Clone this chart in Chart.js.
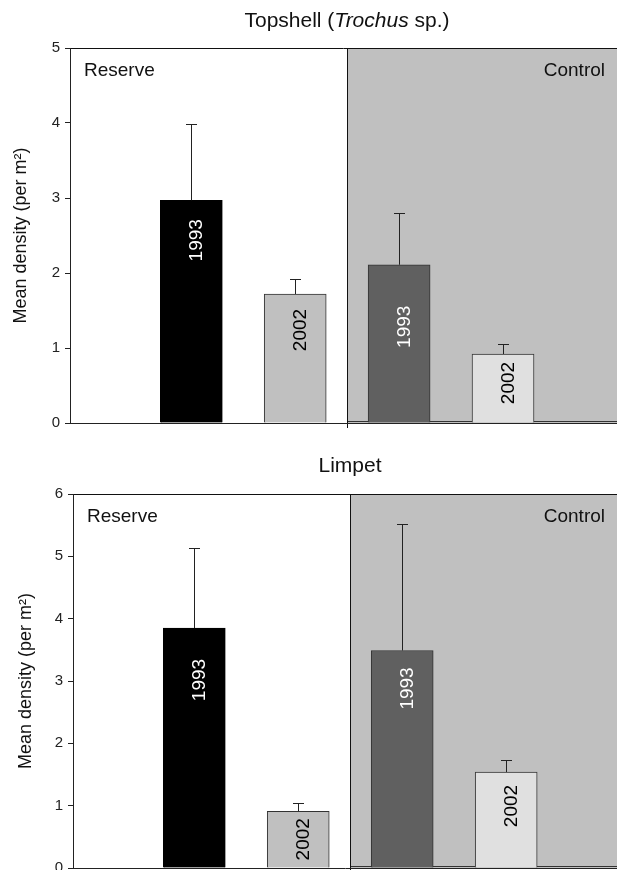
<!DOCTYPE html>
<html>
<head>
<meta charset="utf-8">
<script src="https://cdn.jsdelivr.net/npm/chart.js@4.4.1/dist/chart.umd.min.js"></script>
<style>
  html, body { margin: 0; padding: 0; width: 617px; height: 870px; overflow: hidden; background: #fff; }
  canvas { position: absolute; left: 0; }
  .title {
    position: absolute; width: 300px; text-align: center; white-space: nowrap;
    font-family: 'Liberation Sans', Arial, sans-serif; font-size: 21px; line-height: 20px; color: #111;
  }
</style>
</head>
<body>
<canvas id="topshell" style="top:0" width="617" height="440"></canvas>
<canvas id="limpet" style="top:440px" width="617" height="450"></canvas>
<div class="title" style="left:197px; top:10px">Topshell (<i>Trochus</i> sp.)</div>
<div class="title" style="left:200px; top:455px">Limpet</div>

<script>
// Mean density per m² with standard error, by site and survey year
const groups = ['Reserve', 'Reserve', 'Control', 'Control'];
const years = ['1993', '2002', '1993', '2002'];

const topshellMean = [2.97, 1.72, 2.11, 0.92];
const topshellSE = [1.02, 0.20, 0.69, 0.13];

const limpetMean = [3.85, 0.91, 3.49, 1.54];
const limpetSE = [1.29, 0.13, 2.03, 0.19];

const topshellTicks = [0, 1, 2, 3, 4, 5];
const limpetTicks = [0, 1, 2, 3, 4, 5, 6];

const FONT = "'Liberation Sans', Arial, sans-serif";
const barFill = ['#000000', '#c0c0c0', '#606060', '#e0e0e0'];
const barEdge = ['#000000', '#333333', '#333333', '#333333'];
const yearInk = ['#ffffff', '#000000', '#ffffff', '#000000'];

// Shaded control half, frame lines and site names
const sitePanels = {
  id: 'sitePanels',
  beforeDraw(chart) {
    const { ctx, chartArea: a, scales: { x } } = chart;
    const split = Math.round((x.getPixelForValue(2) + x.getPixelForValue(3)) / 2) + 0.5;
    const top = Math.round(a.top) + 0.5;
    const bottom = Math.round(a.bottom);
    ctx.save();
    ctx.fillStyle = '#c0c0c0';
    ctx.fillRect(split, a.top, a.right - split, a.bottom - a.top);
    ctx.lineWidth = 1;
    ctx.strokeStyle = '#333';
    ctx.beginPath();
    ctx.moveTo(split, bottom - 1.5);
    ctx.lineTo(a.right, bottom - 1.5);
    ctx.stroke();
    ctx.strokeStyle = '#111';
    ctx.beginPath();
    ctx.moveTo(a.left, top);
    ctx.lineTo(a.right, top);
    ctx.moveTo(split, top);
    ctx.lineTo(split, a.bottom + 5);
    ctx.stroke();

    const sites = [...new Set(groups)];
    ctx.font = `19px ${FONT}`;
    ctx.fillStyle = '#111';
    ctx.textBaseline = 'alphabetic';
    ctx.textAlign = 'left';
    ctx.fillText(sites[0], a.left + 14, a.top + 28);
    ctx.textAlign = 'right';
    ctx.fillText(sites[1], a.right - 12, a.top + 28);
    ctx.restore();
  }
};

// Upper error whiskers and the year written up each bar
const barNotes = {
  id: 'barNotes',
  afterDatasetsDraw(chart, args, opts) {
    const { ctx } = chart;
    const y = chart.scales.y;
    const meta = chart.getDatasetMeta(0);
    const data = chart.data.datasets[0].data;
    ctx.save();
    meta.data.forEach((bar, i) => {
      const xc = Math.round(bar.x) + 0.5;
      const yEnd = Math.round(y.getPixelForValue(data[i].y + opts.se[i])) + 0.5;
      ctx.strokeStyle = '#222';
      ctx.lineWidth = 1;
      ctx.beginPath();
      ctx.moveTo(xc, bar.y);
      ctx.lineTo(xc, yEnd);
      ctx.moveTo(xc - 5.5, yEnd);
      ctx.lineTo(xc + 5.5, yEnd);
      ctx.stroke();

      ctx.save();
      ctx.translate(bar.x + 11, bar.y + opts.drop[i]);
      ctx.rotate(-Math.PI / 2);
      ctx.font = `19px ${FONT}`;
      ctx.fillStyle = yearInk[i];
      ctx.textAlign = 'center';
      ctx.textBaseline = 'alphabetic';
      ctx.fillText(years[i], 0, 0);
      ctx.restore();
    });
    ctx.restore();
  }
};

function densityChart(id, mean, se, ticks, look) {
  return new Chart(document.getElementById(id), {
    type: 'bar',
    data: {
      datasets: [{
        data: mean.map((v, i) => ({ x: i + 1, y: v })),
        backgroundColor: barFill,
        borderColor: barEdge,
        borderWidth: 1,
        barThickness: 62
      }]
    },
    options: {
      responsive: false,
      animation: false,
      devicePixelRatio: 1,
      layout: { padding: { top: look.padTop, bottom: look.padBottom, left: 0, right: 0 } },
      plugins: {
        legend: { display: false },
        tooltip: { enabled: false },
        barNotes: { se: se, drop: look.drop }
      },
      scales: {
        x: {
          type: 'linear',
          offset: false,
          min: look.xMin,
          max: look.xMax,
          ticks: { display: false },
          grid: { display: true, offset: false, drawOnChartArea: false, drawTicks: false },
          border: { display: true, color: '#222', width: 1 },
          afterFit(s) { s.height = 0; }
        },
        y: {
          min: 0,
          max: ticks[ticks.length - 1],
          afterBuildTicks(s) { s.ticks = ticks.map(v => ({ value: v })); },
          ticks: { font: { family: FONT, size: 15 }, color: '#222', padding: 5 },
          grid: { display: true, drawOnChartArea: false, drawTicks: true, tickLength: 5, color: '#222' },
          border: { display: true, color: '#222', width: 1 },
          title: {
            display: true,
            text: 'Mean density (per m²)',
            font: { family: FONT, size: 18 },
            color: '#111',
            padding: { top: look.titlePad, bottom: 0 }
          },
          afterFit(s) { s.width = look.axisWidth; }
        }
      }
    },
    plugins: [sitePanels, barNotes]
  });
}

densityChart('topshell', topshellMean, topshellSE, topshellTicks, {
  padTop: 48, padBottom: 17, axisWidth: 70, titlePad: 10,
  xMin: -0.1675, xMax: 5.097, drop: [40, 36, 62, 29]
});

densityChart('limpet', limpetMean, limpetSE, limpetTicks, {
  padTop: 54, padBottom: 22, axisWidth: 73, titlePad: 15,
  xMin: -0.1665, xMax: 5.066, drop: [52, 28, 38, 34]
});
</script>
</body>
</html>
